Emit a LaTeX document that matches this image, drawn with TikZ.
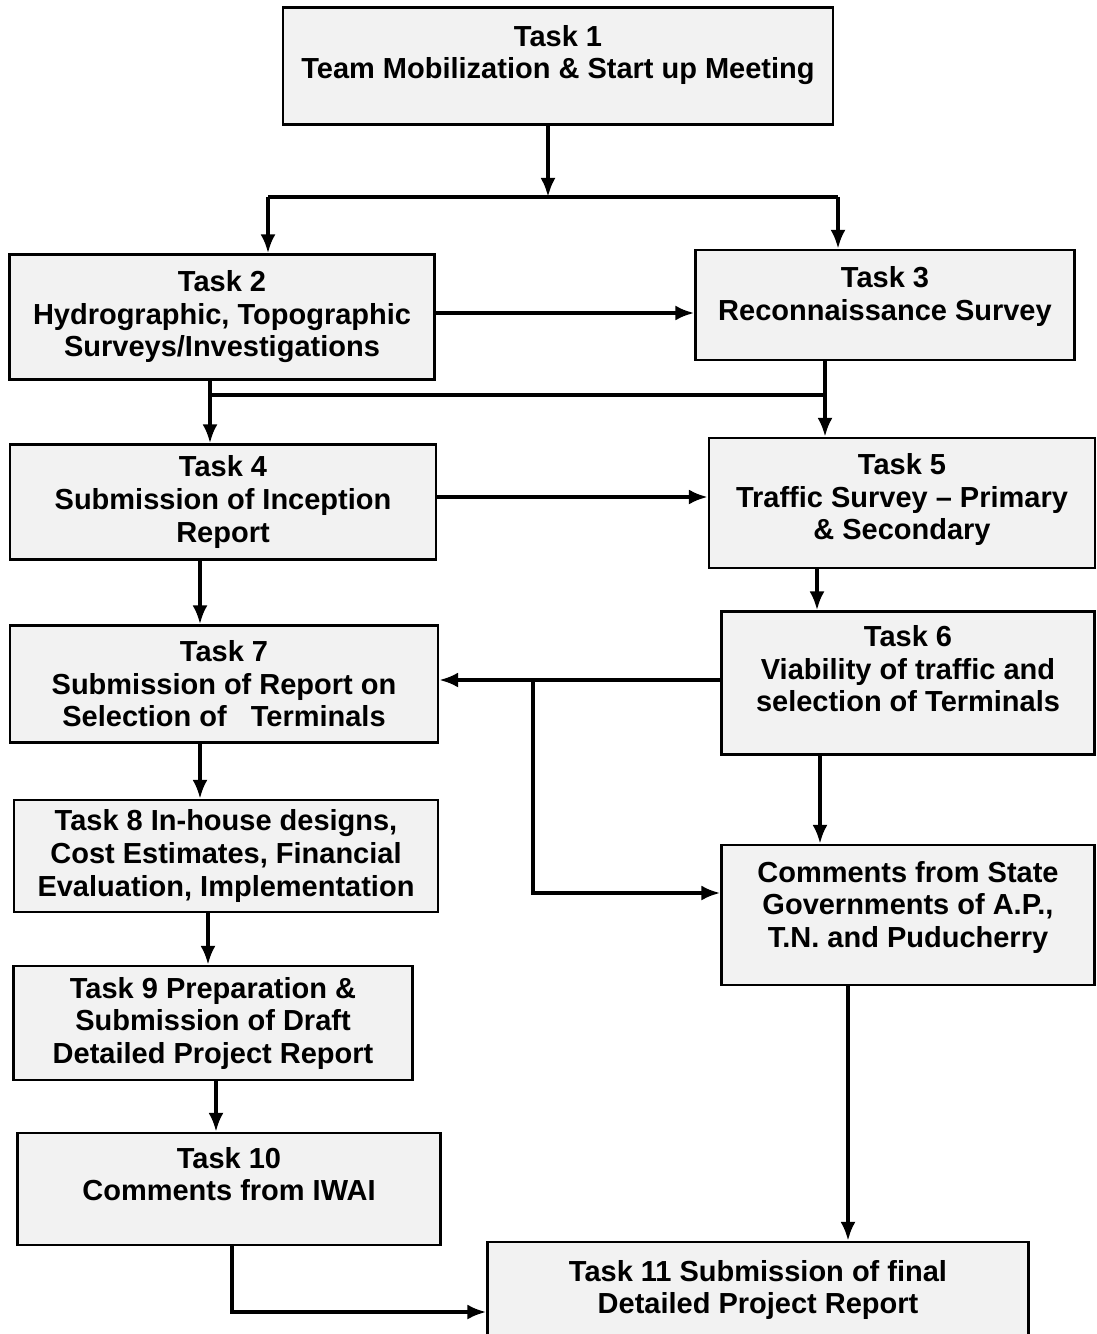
\documentclass[tikz,border=0pt]{standalone}
\usepackage{fontspec}
\setmainfont{Liberation Sans}
\usetikzlibrary{arrows.meta,positioning}

\begin{document}
\begin{tikzpicture}[x=0.02cm, y=-0.02cm]
% Define styles
\tikzstyle{taskbox} = [rectangle, draw=black, line width=1.3pt, fill=gray!10, align=center, inner sep=2pt, font=\fontsize{16.5}{18.5}\selectfont\bfseries]
\tikzstyle{line} = [line width=2.2pt]
\tikzstyle{arrow} = [line width=2.2pt, -{Latex[length=0.38cm,width=0.3cm]}]

\useasboundingbox (0,0) rectangle (1097,1334);

% Place nodes
\node (t1) [taskbox, minimum width=11cm, minimum height=2.34cm, text depth=16pt] at (558,66) {Task 1\\Team Mobilization \& Start up Meeting};
\node (t2) [taskbox, minimum width=8.5cm, minimum height=2.5cm] at (222,317) {Task 2\\Hydrographic, Topographic\\Surveys/Investigations};
\node (t3) [taskbox, minimum width=7.58cm, minimum height=2.2cm, text depth=13pt] at (885,305) {Task 3\\Reconnaissance Survey};
\node (t4) [taskbox, minimum width=8.52cm, minimum height=2.3cm] at (223,502) {Task 4\\Submission of Inception\\Report};
\node (t5) [taskbox, minimum width=7.72cm, minimum height=2.6cm, text depth=7pt] at (902,503) {Task 5\\Traffic Survey -- Primary\\\& Secondary};
\node (t7) [taskbox, minimum width=8.56cm, minimum height=2.34cm] at (224,684) {Task 7\\Submission of Report on\\Selection of~~ Terminals};
\node (t6) [taskbox, minimum width=7.46cm, minimum height=2.86cm, text depth=16pt] at (908,683) {Task 6\\Viability of traffic and\\selection of Terminals};
\node (t8) [taskbox, minimum width=8.48cm, minimum height=2.24cm] at (226,856) {Task 8 In-house designs,\\Cost Estimates, Financial\\Evaluation, Implementation};
\node (cs) [taskbox, minimum width=7.46cm, minimum height=2.8cm, text depth=12pt] at (908,915) {Comments from State\\Governments of A.P.,\\T.N. and Puducherry};
\node (t9) [taskbox, minimum width=7.98cm, minimum height=2.28cm] at (213,1023) {Task 9 Preparation \&\\Submission of Draft\\Detailed Project Report};
\node (t10) [taskbox, minimum width=8.46cm, minimum height=2.24cm, text depth=17pt] at (229,1189) {Task 10\\Comments from IWAI};
\node (t11) [taskbox, minimum width=10.82cm, minimum height=1.92cm] at (758,1290) {Task 11 Submission of final\\Detailed Project Report};

% Junction points
\coordinate (sa) at (268,197);
\coordinate (sb) at (838,197);
\coordinate (sc) at (210,395);
\coordinate (sd) at (825,395);
\coordinate (se) at (533,680);

% Draw arrows
\draw [arrow] ([shift={(-10,0)}]t1.south) -- ([shift={(-10,0)}]t1.south |- sa);
\draw [line] (sa) -- (sb);
\draw [arrow] (sa) -- (sa |- t2.north);
\draw [arrow] (sb) -- (sb |- t3.north);
\draw [arrow] ([shift={(0,-4)}]t2.east) -- ([shift={(0,-4)}]t2.east -| t3.west);
\draw [arrow] (sc |- t2.south) -- (sc |- t4.north);
\draw [arrow] (sd |- t3.south) -- (sd |- t5.north);
\draw [line] (sc) -- (sd);
\draw [arrow] ([shift={(0,-5)}]t4.east) -- ([shift={(0,-5)}]t4.east -| t5.west);
\draw [arrow] ([shift={(-23,0)}]t4.south) -- ([shift={(-23,0)}]t4.south |- t7.north);
\draw [arrow] ([shift={(-85,0)}]t5.south) -- ([shift={(-85,0)}]t5.south |- t6.north);
\draw [arrow] ([shift={(0,-3)}]t6.west) -- ([shift={(0,-3)}]t6.west -| t7.east);
\draw [arrow] (se) |- ([shift={(0,-22)}]cs.west);
\draw [arrow] ([shift={(-88,0)}]t6.south) -- ([shift={(-88,0)}]t6.south |- cs.north);
\draw [arrow] ([shift={(-24,0)}]t7.south) -- ([shift={(-24,0)}]t7.south |- t8.north);
\draw [arrow] ([shift={(-18,0)}]t8.south) -- ([shift={(-18,0)}]t8.south |- t9.north);
\draw [arrow] ([shift={(3,0)}]t9.south) -- ([shift={(3,0)}]t9.south |- t10.north);
\draw [arrow] ([shift={(3,0)}]t10.south) |- ([shift={(0,22)}]t11.west);
\draw [arrow] ([shift={(-60,0)}]cs.south) -- ([shift={(-60,0)}]cs.south |- t11.north);
\end{tikzpicture}
\end{document}
